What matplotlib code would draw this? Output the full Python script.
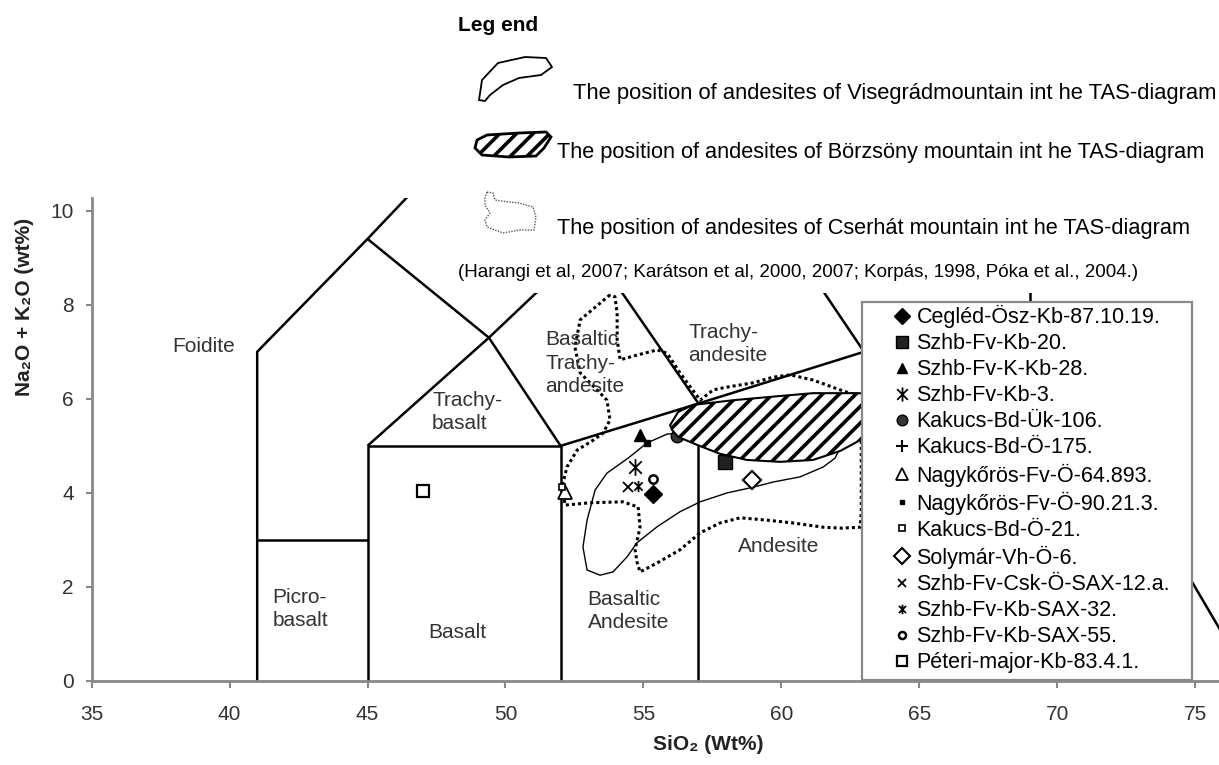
import matplotlib
matplotlib.use('Agg')
import matplotlib.pyplot as plt
from matplotlib.patches import Polygon, Rectangle
from matplotlib.path import Path

plt.rcParams['font.family'] = ['Liberation Sans', 'DejaVu Sans']
plt.rcParams['hatch.linewidth'] = 2.6

# TAS field boundaries (SiO2, Na2O+K2O)
tas_lines = [
    [(41, 0), (41, 7), (45, 9.4), (48.4, 11.5), (52.5, 14)],
    [(41, 3), (45, 3)],
    [(45, 0), (45, 5), (52, 5), (52, 0)],
    [(45, 5), (49.4, 7.3), (53, 9.3), (57.6, 11.7), (61.5, 13.5)],
    [(45, 9.4), (49.4, 7.3), (52, 5), (57, 5.9), (63, 7), (69, 8), (77, 0)],
    [(48.4, 11.5), (53, 9.3), (57, 5.9), (57, 0)],
    [(57.6, 11.7), (63, 7), (63, 0)],
    [(69, 8), (69, 13)],
]

field_names = ['Foidite', 'Picro-\nbasalt', 'Basalt', 'Basaltic\nAndesite', 'Andesite',
               'Trachy-\nbasalt', 'Basaltic\nTrachy-\nandesite', 'Trachy-\nandesite']
field_x = [39.05, 41.55, 48.25, 52.98, 59.89, 47.34, 51.44, 56.62]
field_y = [7.11, 1.53, 1.04, 1.49, 2.85, 5.72, 6.76, 7.17]
field_ha = ['center', 'left', 'center', 'left', 'center', 'left', 'left', 'left']

# Visegrad andesites (solid outline)
visegrad = [(55.13, 5.06), (54.45, 4.74), (53.68, 4.42), (53.25, 4.06), (52.96, 3.42),
            (52.81, 2.85), (52.96, 2.36), (53.43, 2.25), (53.90, 2.32), (54.41, 2.64),
            (54.77, 2.94), (55.50, 3.28), (56.33, 3.60), (57.06, 3.81), (58.04, 4.00),
            (58.98, 4.12), (59.70, 4.23), (60.68, 4.34), (61.52, 4.55), (61.95, 4.74),
            (62.13, 4.95), (61.77, 5.33), (58.87, 5.33), (56.69, 5.29), (55.86, 5.25)]

# Borzsony andesites (hatched)
borzsony = [(55.97, 5.44), (56.26, 5.72), (56.80, 5.87), (58.25, 5.97), (59.96, 6.06),
            (61.15, 6.12), (62.86, 6.12), (63.58, 5.97), (63.76, 5.55), (63.58, 5.12),
            (62.86, 5.12), (62.13, 4.89), (61.15, 4.70), (59.96, 4.66), (58.76, 4.70),
            (57.78, 4.83), (56.95, 5.02), (56.26, 5.19), (56.04, 5.34)]

# Cserhat andesites (dotted outline)
cserhat = [(53.79, 8.21), (52.71, 7.68), (52.52, 7.10), (52.71, 6.55), (53.32, 6.19),
           (53.68, 5.97), (53.79, 5.55), (53.54, 5.27), (53.18, 5.12), (52.60, 4.91),
           (52.23, 4.55), (52.05, 4.12), (52.09, 4.06), (52.16, 3.74), (53.07, 3.79),
           (54.26, 3.81), (54.81, 3.70), (54.88, 3.27), (54.70, 2.79), (54.77, 2.53),
           (54.88, 2.32), (55.50, 2.51), (56.33, 2.79), (57.06, 3.15), (57.78, 3.36),
           (58.51, 3.47), (59.49, 3.42), (60.43, 3.36), (61.52, 3.27), (62.18, 3.25),
           (62.86, 3.27), (62.90, 3.57), (62.90, 4.98), (62.90, 5.70), (62.90, 6.04),
           (62.13, 6.19), (61.15, 6.40), (60.32, 6.51), (59.70, 6.46), (58.98, 6.34),
           (58.04, 6.25), (57.53, 6.19), (57.06, 5.97), (56.33, 6.55), (55.86, 6.97),
           (55.50, 7.04), (54.77, 6.93), (54.16, 6.83), (54.05, 7.25), (54.05, 7.82),
           (53.97, 8.17), (53.79, 8.21)]

samples = ['Cegléd-Ösz-Kb-87.10.19.', 'Szhb-Fv-Kb-20.', 'Szhb-Fv-K-Kb-28.', 'Szhb-Fv-Kb-3.',
           'Kakucs-Bd-Ük-106.', 'Kakucs-Bd-Ö-175.', 'Nagykőrös-Fv-Ö-64.893.',
           'Nagykőrös-Fv-Ö-90.21.3.', 'Kakucs-Bd-Ö-21.', 'Solymár-Vh-Ö-6.',
           'Szhb-Fv-Csk-Ö-SAX-12.a.', 'Szhb-Fv-Kb-SAX-32.', 'Szhb-Fv-Kb-SAX-55.',
           'Péteri-major-Kb-83.4.1.']
sio2 = [55.35, 57.96, 54.88, 54.70, 56.22, 63.0, 52.16, 55.13, 52.05, 58.94, 54.45, 54.81, 55.35, 47.01]
alkali = [3.97, 4.66, 5.23, 4.55, 5.21, 5.49, 4.02, 5.06, 4.12, 4.27, 4.12, 4.15, 4.30, 4.04]

star6 = Path([(0, -1), (0, 1), (-0.75, -0.75), (0.75, 0.75), (-0.75, 0.75), (0.75, -0.75)],
             [Path.MOVETO, Path.LINETO] * 3)
# marker, size, face, edge width
styles = [('D', 9, 'black', 1), ('s', 10, '#222222', 1), ('^', 9, 'black', 1),
          (star6, 12, 'none', 1.3), ('o', 9, '#333333', 1), ('+', 11, 'none', 1.5),
          ('^', 10, 'white', 1.3), ('s', 4, 'black', 1), ('s', 5, 'white', 1.2),
          ('D', 9, 'white', 1.5), ('x', 7, 'none', 1.3), (star6, 8, 'none', 1.3),
          ('o', 6, 'white', 1.8), ('s', 8, 'white', 1.6)]

fig = plt.figure(figsize=(12.19, 7.65), dpi=100)
ax = fig.add_axes([91.7 / 1219, 1 - 681 / 765, (1219 - 91.7) / 1219, (681 - 198) / 765], zorder=1)
ax.set_xlim(35, 75.87)
ax.set_ylim(0, 10.27)

for seg in tas_lines:
    ax.plot([p[0] for p in seg], [p[1] for p in seg], color='black', lw=1.8, zorder=2,
            solid_capstyle='butt')

ax.plot([p[0] for p in cserhat], [p[1] for p in cserhat], color='black', lw=2.2,
        linestyle=(0, (1, 1)), zorder=2.2)
ax.add_patch(Polygon(visegrad, closed=True, fill=False, edgecolor='black', lw=1, zorder=2.3))

handles = []
for name, x, y, st in zip(samples, sio2, alkali, styles):
    h, = ax.plot([x], [y], linestyle='none', marker=st[0], markersize=st[1],
                 markerfacecolor=st[2], markeredgecolor='black', markeredgewidth=st[3],
                 zorder=3, label=name)
    handles.append(h)

ax.add_patch(Polygon(borzsony, closed=True, facecolor='white', edgecolor='black',
                     hatch='//', lw=1.5, zorder=4))

for name, x, y, ha in zip(field_names, field_x, field_y, field_ha):
    ax.text(x, y, name, fontsize=15, color='#333333', ha=ha, va='center',
            linespacing=1.3, zorder=4.5)

ax.spines['top'].set_visible(False)
ax.spines['right'].set_visible(False)
for s in ['left', 'bottom']:
    ax.spines[s].set_color('#888888')
    ax.spines[s].set_linewidth(2)
ax.set_xticks(range(35, 76, 5))
ax.set_yticks(range(0, 11, 2))
ax.tick_params(axis='x', direction='out', length=5, width=1.5, color='#888888',
               labelsize=15, labelcolor='#333333', pad=12)
ax.tick_params(axis='y', direction='out', length=4, width=1.5, color='#888888',
               labelsize=15, labelcolor='#333333', pad=9)

fig.text(25 / 1219, 1 - 307 / 765, 'Na₂O + K₂O (wt%)', rotation=90, fontsize=15,
         weight='bold', ha='center', va='center', color='#222222')
fig.text(708 / 1219, 1 - 745 / 765, 'SiO₂ (Wt%)', fontsize=15, weight='bold',
         ha='center', va='center', color='#222222')

# overlay in pixel coordinates for the legend pieces
ov = fig.add_axes([0, 0, 1, 1], zorder=5)
ov.set_xlim(0, 1219)
ov.set_ylim(765, 0)
ov.axis('off')

ov.add_patch(Rectangle((450, 0), 769, 293, facecolor='white', edgecolor='none'))
ov.add_patch(Rectangle((862, 302), 330, 378, facecolor='white', edgecolor='#888888', lw=1.6))

ov.text(458, 25, 'Leg end', fontsize=15, weight='bold', va='center', ha='left')
ov.text(573, 93, 'The position of andesites of Visegrádmountain int he TAS-diagram',
        fontsize=15.8, va='center', ha='left')
ov.text(557, 152, 'The position of andesites of Börzsöny mountain int he TAS-diagram',
        fontsize=15.7, va='center', ha='left')
ov.text(557, 228, 'The position of andesites of Cserhát mountain int he TAS-diagram',
        fontsize=15.7, va='center', ha='left')
ov.text(458, 272, '(Harangi et al, 2007; Karátson et al, 2000, 2007; Korpás, 1998, Póka et al., 2004.)',
        fontsize=13.5, va='center', ha='left')

vis_sym = [(479, 100), (482, 80), (498, 63), (525, 57), (546, 58), (552, 67), (541, 75),
           (519, 78), (503, 85), (490, 95), (485, 101)]
ov.add_patch(Polygon(vis_sym, closed=True, fill=False, edgecolor='black', lw=1.3))
bor_sym = [(477, 140), (487, 135), (519, 133), (546, 132), (551, 137), (544, 148),
           (536, 156), (509, 157), (482, 155), (475, 148)]
ov.add_patch(Polygon(bor_sym, closed=True, facecolor='white', edgecolor='black',
                     hatch='//', lw=2))
cse_sym = [(487, 192), (493, 193), (495, 200), (509, 202), (519, 203), (533, 207), (536, 217),
           (534, 230), (519, 230), (509, 232), (503, 233), (495, 230), (487, 227), (485, 220),
           (490, 213), (485, 205), (485, 197), (487, 192)]
ov.plot([p[0] for p in cse_sym], [p[1] for p in cse_sym], color='#555555', lw=1,
        linestyle=(0, (1, 1)))

ov.legend(handles, samples, loc='upper left', bbox_to_anchor=(896, 305),
          bbox_transform=ov.transData, frameon=False, fontsize=15.5, handlelength=0.6,
          handletextpad=0.35, labelspacing=0.235, borderpad=0, borderaxespad=0,
          markerscale=0.85)

fig.savefig('out.png', dpi=100)
